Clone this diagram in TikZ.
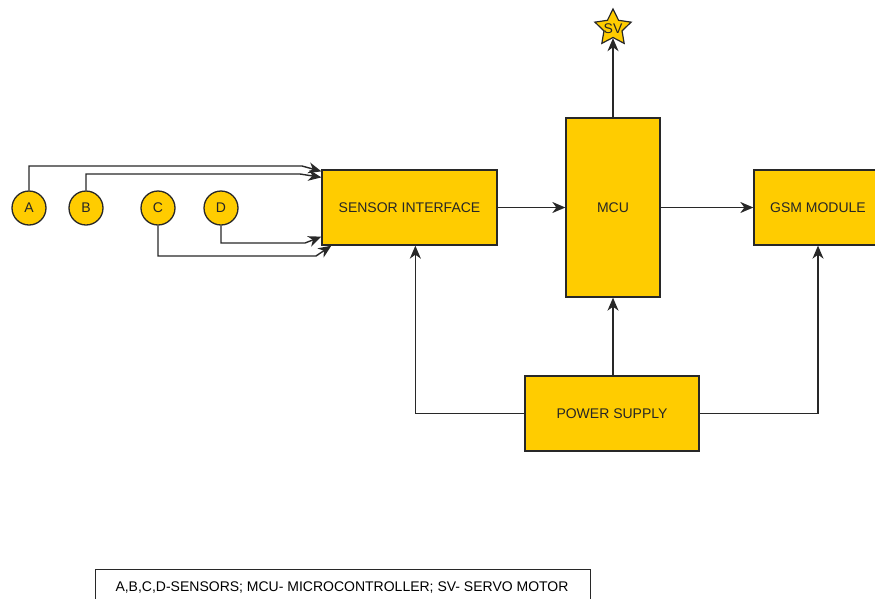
\documentclass[tikz,border=0pt]{standalone}
\usepackage{fontspec}
\setmainfont{Liberation Sans}
\usetikzlibrary{arrows.meta,shapes.geometric,calc}
\definecolor{gold}{RGB}{255,204,0}
\definecolor{edge}{RGB}{40,40,40}
\begin{document}
\begin{tikzpicture}[x=1pt,y=-1pt,
  font=\fontsize{14}{16}\selectfont,
  blk/.style={draw=edge,fill=gold,line width=1.3pt,inner sep=0pt,text=black!85},
  sens/.style={circle,draw=edge,fill=gold,line width=1.3pt,minimum size=34pt,inner sep=0pt,text=black!85},
  arr/.style={draw=edge,line width=1.4pt,-{Stealth[length=13pt,width=11pt,inset=4pt]}}]
\useasboundingbox (0,0) rectangle (875,598);
\begin{scope}
\clip (0,0) rectangle (875,598);
\node[blk,minimum width=175pt,minimum height=75pt] (si) at (409.5,207.5) {SENSOR INTERFACE};
\node[blk,minimum width=94pt,minimum height=179pt] (mcu) at (613,207.5) {MCU};
\node[blk,minimum width=128pt,minimum height=75pt] (gsm) at (818,207.5) {GSM MODULE};
\node[blk,minimum width=174pt,minimum height=75pt] (ps) at (612,413.5) {POWER SUPPLY};
\node[star,star points=5,star point ratio=2.0,draw=edge,fill=gold,line width=1.2pt,minimum size=38pt,inner sep=0pt] (sv) at (613,28) {};
\node[text=black!85,inner sep=0pt] (svt) at (613,29) {SV};
\node[sens] (A) at (29,208) {A};
\node[sens] (B) at (86,208) {B};
\node[sens] (C) at (158,208) {C};
\node[sens] (D) at (221,208) {D};
\node[draw=edge,line width=1pt,minimum width=495pt,minimum height=38pt,anchor=north west,inner sep=0pt] (leg) at (95,569) {};
\node[text=black] (legt) at (342,587.5) {A,B,C,D-SENSORS; MCU- MICROCONTROLLER; SV- SERVO MOTOR};
\end{scope}
% connectors from sensors
\coordinate (a1) at (302,166);
\coordinate (b1) at (300,174);
\coordinate (d1) at (305,243);
\coordinate (c1) at (316,256);
\draw[arr] (A.north) |- (a1) -- ($(si.north west)+(0,2)$);
\draw[arr] (B.north) |- (b1) -- ($(si.north west)+(0,8)$);
\draw[arr] (D.south) |- (d1) -- ($(si.south west)+(0,-9)$);
\draw[arr] (C.south) |- (c1) -- ($(si.south west)+(10,0)$);
% main flow
\draw[arr] (si.east) -- (mcu.west);
\draw[arr] (mcu.east) -- (gsm.west);
\draw[arr] (mcu.north) -- (sv);
\draw[arr] (ps.north -| mcu.south) -- (mcu.south);
\draw[arr] (ps.west) -| ($(si.south west)+(94,0)$);
\draw[arr] (ps.east) -| (gsm.south);
\end{tikzpicture}
\end{document}
